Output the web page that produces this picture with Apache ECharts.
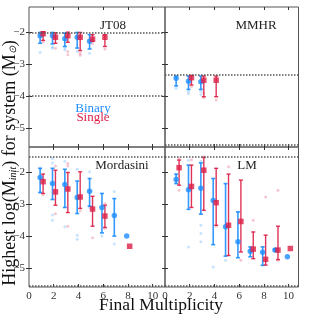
<!DOCTYPE html>
<html><head><meta charset="utf-8">
<script src="https://cdn.jsdelivr.net/npm/echarts@6/dist/echarts.min.js"></script>
<style>html,body{margin:0;padding:0;background:#fff}#c{width:309px;height:315px}</style>
</head><body><div id="c"></div>
<script>
// ---- data: [multiplicity, median, low, high] ----
const panelNames = ['JT08', 'MMHR', 'Mordasini', 'LM'];
const xTicks = [0, 2, 4, 6, 8, 10];
const yTicks = [-2, -3, -4, -5];

const jt08Binary = [[1,-2.10,-2.34,-2.00],[2,-2.10,-2.36,-2.00],[3,-2.20,-2.44,-2.02],[4,-2.15,-2.49,-2.00],[5,-2.28,-2.52,-2.07]];
const jt08Single = [[1,-2.04,-2.25,-1.98],[2,-2.15,-2.34,-2.01],[3,-2.10,-2.31,-1.99],[4,-2.15,-2.57,-2.00],[5,-2.21,-2.28,-2.07],[6,-2.15,-2.44,-2.07]];
const jt08BinaryPts = [[1,-2.63],[2,-2.45],[2,-2.50],[3,-2.55],[3,-2.48],[4,-2.60],[5,-2.65]];
const jt08SinglePts = [[1,-2.30],[2,-2.50],[3,-2.60],[3,-2.70],[4,-2.65],[4,-2.72],[5,-2.35],[6,-2.52]];
const jt08Lines = [-2, -4];

const mmhrBinary = [[1,-3.44,-3.68,-3.37],[2,-3.53,-3.79,-3.37],[3,-3.55,-3.79,-3.37]];
const mmhrSingle = [[2,-3.42,-3.65,-3.35],[3,-3.50,-4.02,-3.37],[4,-3.50,-4.02,-3.37]];
const mmhrBinaryPts = [[1,-3.75],[2,-3.85],[2,-3.92],[3,-3.85],[3,-3.95]];
const mmhrSinglePts = [[2,-3.70],[3,-3.90],[3,-4.05],[4,-4.12]];
const mmhrLines = [-3.32, -5.54];

const mordBinary = [[1,-2.16,-2.63,-1.87],[2,-2.35,-2.85,-1.87],[3,-2.38,-3.10,-1.90],[4,-2.79,-3.29,-2.27],[5,-2.59,-3.06,-2.19],[6,-3.10,-3.90,-2.66],[7,-3.35,-4.00,-2.82],[8,-4.00,-4.00,-4.00]];
const mordSingle = [[1,-2.29,-2.66,-2.05],[2,-2.61,-3.03,-1.93],[3,-2.52,-3.26,-2.00],[4,-2.77,-3.13,-1.98],[5,-3.15,-3.69,-2.75],[6,-3.37,-3.73,-3.03],[8,-4.32,-4.32,-4.32]];
const mordBinaryPts = [[1,-1.87],[1,-2.63],[2,-1.56],[2,-1.70],[2,-3.34],[2,-3.50],[3,-3.71],[3,-1.65],[4,-3.97],[4,-4.10],[4,-1.90],[5,-1.98],[5,-3.10],[6,-4.00],[7,-2.60],[7,-4.25]];
const mordSinglePts = [[1,-2.70],[2,-1.80],[2,-3.30],[3,-1.72],[3,-1.80],[3,-3.69],[4,-3.20],[5,-4.05],[6,-2.98],[6,-3.75]];
const mordLines = [-1.51, -5.55];

const lmBinary = [[1,-2.22,-2.35,-2.05],[2,-2.54,-3.16,-1.77],[3,-2.50,-3.31,-1.70],[4,-2.88,-4.27,-2.19],[5,-3.71,-4.63,-2.35],[6,-4.18,-4.68,-3.24],[7,-4.48,-4.65,-4.34],[8,-4.51,-4.92,-4.34],[9,-4.44,-4.47,-4.40],[10,-4.65,-4.65,-4.65]];
const lmSingle = [[1,-1.85,-2.40,-1.61],[2,-2.44,-3.10,-1.77],[3,-1.93,-3.19,-1.53],[4,-2.95,-3.66,-1.87],[5,-3.66,-4.61,-2.05],[6,-3.54,-4.50,-2.24],[7,-4.41,-4.71,-3.87],[8,-4.73,-4.91,-3.97],[9,-4.44,-4.74,-3.69],[10,-4.39,-4.39,-4.39]];
const lmBinaryPts = [[1,-2.10],[2,-1.62],[2,-4.34],[3,-1.65],[3,-3.66],[3,-3.92],[3,-4.18],[4,-4.97],[5,-4.76],[6,-3.24],[7,-4.40]];
const lmSinglePts = [[1,-2.56],[1,-1.56],[2,-1.60],[3,-1.50],[4,-3.69],[5,-1.82],[6,-4.76],[7,-3.50],[8,-2.77],[9,-2.56],[9,-4.76]];
const lmLines = [-1.51, -5.55];

// ---- styling ----
const BLUE = '#1e8fff', RED = '#dc1e46';
const FONT = 'Liberation Serif';
const offB = -0.1, offS = 0.14;
const panels = [
  {bin: jt08Binary, sin: jt08Single, binPts: jt08BinaryPts, sinPts: jt08SinglePts, lines: jt08Lines},
  {bin: mmhrBinary, sin: mmhrSingle, binPts: mmhrBinaryPts, sinPts: mmhrSinglePts, lines: mmhrLines},
  {bin: mordBinary, sin: mordSingle, binPts: mordBinaryPts, sinPts: mordSinglePts, lines: mordLines},
  {bin: lmBinary, sin: lmSingle, binPts: lmBinaryPts, sinPts: lmSinglePts, lines: lmLines}
];
const gridPos = [
  {left: 29, top: 7, width: 136, height: 140, xmax: 11},
  {left: 165, top: 7, width: 133.5, height: 140, xmax: 10.8},
  {left: 29, top: 147, width: 136, height: 140, xmax: 11},
  {left: 165, top: 147, width: 133.5, height: 140, xmax: 10.8}
];
const grid = [], xAxis = [], yAxis = [], series = [];
const minus = v => String(v).replace('-', '\u2212');

function errRender(color, width) {
  return function (params, api) {
    const x = api.value(0), lo = api.value(1), hi = api.value(2);
    if (lo === hi) return null;
    const a = api.coord([x, hi]), b = api.coord([x, lo]);
    const c = 2;
    const st = {stroke: color, lineWidth: width, opacity: 0.9};
    return {type: 'group', children: [
      {type: 'line', shape: {x1: a[0], y1: a[1], x2: b[0], y2: b[1]}, style: st},
      {type: 'line', shape: {x1: a[0]-c, y1: a[1], x2: a[0]+c, y2: a[1]}, style: st},
      {type: 'line', shape: {x1: b[0]-c, y1: b[1], x2: b[0]+c, y2: b[1]}, style: st}
    ]};
  };
}

gridPos.forEach((g, i) => {
  grid.push({left: g.left, top: g.top, width: g.width, height: g.height, show: true, borderColor: '#555', borderWidth: 1});
  const isBottom = i >= 2, isLeft = i % 2 === 0;
  const tickCommon = {show: true, inside: true, length: 3, lineStyle: {color: '#333'}, customValues: [2, 4, 6, 8, 10]};
  xAxis.push({type: 'value', gridIndex: i, min: 0, max: g.xmax, position: 'bottom',
    axisLine: {show: false}, splitLine: {show: false}, axisTick: tickCommon,
    axisLabel: {show: isBottom, customValues: xTicks, fontFamily: FONT, fontSize: 11, color: '#333', margin: 4}});
  xAxis.push({type: 'value', gridIndex: i, min: 0, max: g.xmax, position: 'top',
    axisLine: {show: false}, splitLine: {show: false}, axisTick: tickCommon, axisLabel: {show: false}});
  const yTickCommon = {show: true, inside: true, length: 3, lineStyle: {color: '#333'}, customValues: yTicks};
  yAxis.push({type: 'value', gridIndex: i, min: -5.6, max: -1.2, position: 'left',
    axisLine: {show: false}, splitLine: {show: false}, axisTick: yTickCommon,
    axisLabel: {show: isLeft, customValues: yTicks, formatter: minus, fontFamily: FONT, fontSize: 11, color: '#333', margin: 4}});
  yAxis.push({type: 'value', gridIndex: i, min: -5.6, max: -1.2, position: 'right',
    axisLine: {show: false}, splitLine: {show: false}, axisTick: yTickCommon, axisLabel: {show: false}});

  const p = panels[i];
  const xi = 2 * i, yi = 2 * i;
  series.push({type: 'scatter', xAxisIndex: xi, yAxisIndex: yi, symbol: 'circle', symbolSize: 3, silent: true,
    itemStyle: {color: BLUE, opacity: 0.25}, data: p.binPts.map(d => [d[0] + offB, d[1]])});
  series.push({type: 'scatter', xAxisIndex: xi, yAxisIndex: yi, symbol: 'circle', symbolSize: 3, silent: true,
    itemStyle: {color: RED, opacity: 0.25}, data: p.sinPts.map(d => [d[0] + offS, d[1]])});
  series.push({type: 'line', xAxisIndex: xi, yAxisIndex: yi, data: [], silent: true,
    markLine: {silent: true, symbol: 'none', label: {show: false},
      lineStyle: {color: '#555', type: [1.5, 1.5], width: 1.5},
      data: p.lines.map(v => ({yAxis: v}))}});
  series.push({type: 'custom', xAxisIndex: xi, yAxisIndex: yi, renderItem: errRender(BLUE, 1.6), clip: true,
    encode: {x: 0, y: [1, 2]}, data: p.bin.map(d => [d[0] + offB, d[2], d[3]])});
  series.push({type: 'custom', xAxisIndex: xi, yAxisIndex: yi, renderItem: errRender(RED, 1.4), clip: true,
    encode: {x: 0, y: [1, 2]}, data: p.sin.map(d => [d[0] + offS, d[2], d[3]])});
  series.push({type: 'scatter', xAxisIndex: xi, yAxisIndex: yi, symbol: 'circle', symbolSize: 5.5,
    itemStyle: {color: BLUE}, data: p.bin.map(d => [d[0] + offB, d[1]])});
  series.push({type: 'scatter', xAxisIndex: xi, yAxisIndex: yi, symbol: 'rect', symbolSize: 5.5,
    itemStyle: {color: RED}, data: p.sin.map(d => [d[0] + offS, d[1]])});
});

const chart = echarts.init(document.getElementById('c'), null, {renderer: 'canvas'});
const lbl = '13px "Liberation Serif"';
chart.setOption({
  animation: false,
  grid, xAxis, yAxis, series,
  graphic: [
    {type: 'text', x: 113, y: 26, style: {text: panelNames[0], font: lbl, fill: '#222', align: 'center', verticalAlign: 'middle'}},
    {type: 'text', x: 256, y: 26, style: {text: panelNames[1], font: lbl, fill: '#222', align: 'center', verticalAlign: 'middle'}},
    {type: 'text', x: 122, y: 166, style: {text: panelNames[2], font: lbl, fill: '#222', align: 'center', verticalAlign: 'middle'}},
    {type: 'text', x: 247, y: 166, style: {text: panelNames[3], font: lbl, fill: '#222', align: 'center', verticalAlign: 'middle'}},
    {type: 'text', x: 93, y: 109, style: {text: 'Binary', font: lbl, fill: BLUE, align: 'center', verticalAlign: 'middle'}},
    {type: 'text', x: 93, y: 118, style: {text: 'Single', font: lbl, fill: RED, align: 'center', verticalAlign: 'middle'}},
    {type: 'text', x: 161, y: 305, style: {text: 'Final Multiplicity', font: '17.5px "Liberation Serif"', fill: '#111', align: 'center', verticalAlign: 'middle'}},
    {type: 'text', x: 10, y: 163, rotation: Math.PI / 2,
      style: {text: '{a|Highest log(M}{s|init}{a|) for system (M}{s|\u2299}{a|)}', align: 'center', verticalAlign: 'middle',
        rich: {a: {font: '18px "Liberation Serif"', fill: '#111'}, s: {font: 'italic 10px "Liberation Serif"', fill: '#111', padding: [7, 0, 0, 0]}}}}
  ]
});
</script></body></html>
